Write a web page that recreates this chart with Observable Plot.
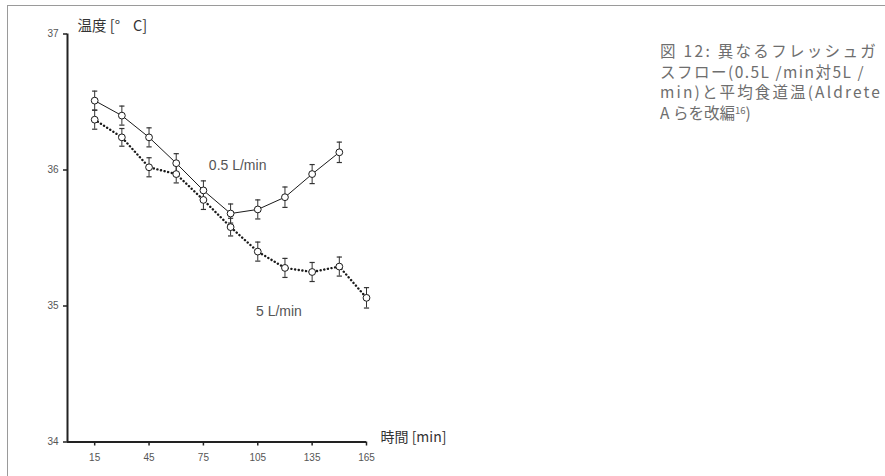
<!DOCTYPE html>
<html>
<head>
<meta charset="utf-8">
<script src="https://cdn.jsdelivr.net/npm/d3@7"></script>
<script src="https://cdn.jsdelivr.net/npm/@observablehq/plot@0.6"></script>
<style>
  html, body { margin: 0; padding: 0; background: #fff; }
  #wrap { position: relative; width: 885px; height: 476px; overflow: hidden; }
  #frame { position: absolute; left: 7px; top: 5px; right: -2px; bottom: -2px;
           border-top: 1.5px solid #9a9a9a; border-left: 1.5px solid #9a9a9a; }
  #caption { position: absolute; left: 660px; top: 40px;
             font-family: "Noto Sans CJK JP", "Noto Sans", sans-serif;
             font-size: 15.5px; color: #6e6e6e; }
  #caption .ln { height: 20.5px; line-height: 20.5px; white-space: nowrap; }
  #caption .ln span { display: inline-block; }
  #caption sup { font-size: 9.5px; vertical-align: 5px; line-height: 0; }
  #chart { position: absolute; left: 0; top: 0; }
</style>
</head>
<body>
<div id="wrap">
  <div id="frame"></div>
  <div id="chart"></div>
  <div id="caption">
    <div class="ln"><span data-w="218">図 12: 異なるフレッシュガ</span></div>
    <div class="ln"><span data-w="205">スフロー(0.5L /min対5L /</span></div>
    <div class="ln"><span data-w="222">min)と平均食道温(Aldrete</span></div>
    <div class="ln"><span>A らを改編<sup>16</sup>)</span></div>
  </div>
</div>
<script>
// Time points (min)
const times05 = [15, 30, 45, 60, 75, 90, 105, 120, 135, 150];
const times5 = [15, 30, 45, 60, 75, 90, 105, 120, 135, 150, 165];

// Mean esophageal temperature (°C) and error (±)
const temp05 = [36.51, 36.40, 36.24, 36.05, 35.85, 35.68, 35.71, 35.80, 35.97, 36.13];
const err05 = [0.07, 0.07, 0.07, 0.07, 0.07, 0.07, 0.07, 0.075, 0.07, 0.075];
const temp5 = [36.37, 36.24, 36.02, 35.97, 35.78, 35.58, 35.40, 35.28, 35.25, 35.29, 35.06];
const err5 = [0.07, 0.065, 0.07, 0.065, 0.07, 0.065, 0.07, 0.07, 0.07, 0.07, 0.075];

// Axis ticks
const xTicks = [15, 45, 75, 105, 135, 165];
const yTicks = [34, 35, 36, 37];

const seriesLabels = ["0.5 L/min", "5 L/min"];

const s05 = times05.map((t, i) => ({t, v: temp05[i], e: err05[i]}));
const s5 = times5.map((t, i) => ({t, v: temp5[i], e: err5[i]}));

// horizontal bar symbol for error-bar caps
const capSymbol = {
  draw(context, size) {
    const r = Math.sqrt(size / Math.PI);
    context.moveTo(-r, 0);
    context.lineTo(r, 0);
  }
};

const errorMarks = (data) => [
  Plot.ruleX(data, {x: "t", y1: d => d.v - d.e, y2: d => d.v + d.e, stroke: "#333", strokeWidth: 1}),
  Plot.dot(data, {x: "t", y: d => d.v + d.e, symbol: capSymbol, r: 2.6, stroke: "#333", strokeWidth: 1.2}),
  Plot.dot(data, {x: "t", y: d => d.v - d.e, symbol: capSymbol, r: 2.6, stroke: "#333", strokeWidth: 1.2})
];

const cjk = "'Noto Sans CJK JP', sans-serif";

const chart = Plot.plot({
  width: 885,
  height: 476,
  marginLeft: 67,
  marginRight: 519,
  marginTop: 33.5,
  marginBottom: 34.5,
  x: {domain: [0, 165]},
  y: {domain: [34, 37]},
  style: {fontFamily: "'Liberation Sans', Arial, sans-serif", fontSize: "10px", color: "#444", background: "transparent"},
  marks: [
    Plot.axisY({ticks: yTicks, tickFormat: d => String(d), tickSize: 4, tickPadding: 5, label: null,
      stroke: "#222", fill: "#555", strokeWidth: 1.5}),
    Plot.axisX({ticks: xTicks, tickFormat: d => String(d), tickSize: 4, tickPadding: 8, label: null,
      stroke: "#222", fill: "#555", strokeWidth: 1.5}),
    Plot.ruleX([0], {y1: 34, y2: 37, stroke: "#222", strokeWidth: 2}),
    Plot.ruleY([34], {x1: 0, x2: 165, stroke: "#222", strokeWidth: 2}),
    // axis titles
    Plot.text(["温度 [°\u00a0\u00a0\u00a0\u00a0C]"], {frameAnchor: "top-left", dx: 10, dy: -3, textAnchor: "start", lineAnchor: "bottom",
      fontFamily: cjk, fontSize: 14.5, fill: "#333"}),
    Plot.text(["時間 [min]"], {frameAnchor: "bottom-right", dx: 14, dy: -4, textAnchor: "start", lineAnchor: "middle",
      fontFamily: cjk, fontSize: 14, fill: "#333"}),
    // lines
    Plot.line(s5, {x: "t", y: "v", stroke: "#1a1a1a", strokeWidth: 2.4, strokeDasharray: "0.1 3.6", strokeLinecap: "round"}),
    Plot.line(s05, {x: "t", y: "v", stroke: "#1a1a1a", strokeWidth: 1}),
    ...errorMarks(s05),
    ...errorMarks(s5),
    Plot.dot(s5, {x: "t", y: "v", r: 3.4, fill: "white", stroke: "#1a1a1a", strokeWidth: 1}),
    Plot.dot(s05, {x: "t", y: "v", r: 3.4, fill: "white", stroke: "#1a1a1a", strokeWidth: 1}),
    // series labels
    Plot.text([seriesLabels[0]], {x: 78, y: 36.03, textAnchor: "start", fontSize: 14, fill: "#555"}),
    Plot.text([seriesLabels[1]], {x: 104, y: 34.96, textAnchor: "start", fontSize: 14, fill: "#555"})
  ]
});

document.getElementById("chart").appendChild(chart);

// spread caption lines evenly to their target widths
document.querySelectorAll("#caption span[data-w]").forEach(el => {
  const target = +el.dataset.w;
  const n = [...el.textContent].length;
  const natural = el.getBoundingClientRect().width;
  if (natural < target && n > 1) el.style.letterSpacing = ((target - natural) / n) + "px";
});
</script>
</body>
</html>
